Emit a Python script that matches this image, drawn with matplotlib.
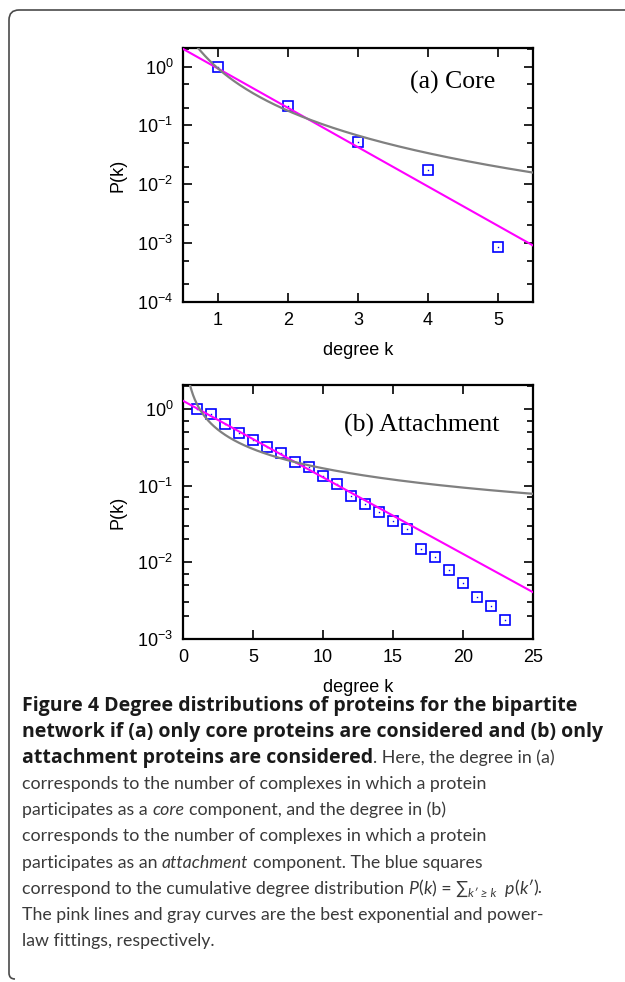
import numpy as np
import matplotlib
matplotlib.use('Agg')
import matplotlib.pyplot as plt
from matplotlib.path import Path
from matplotlib.patches import PathPatch
from matplotlib.ticker import LogLocator, FixedLocator, NullFormatter, FuncFormatter

plt.rcParams['font.family'] = ['Liberation Sans', 'DejaVu Sans']
plt.rcParams['mathtext.fontset'] = 'custom'
plt.rcParams['mathtext.rm'] = 'Liberation Sans'
plt.rcParams['mathtext.it'] = 'Liberation Sans:italic'

# ---------------- data ----------------
core_k = [1, 2, 3, 4, 5]
core_P = [1.0, 0.21, 0.052, 0.0174, 0.00087]

att_k = list(range(1, 24))
att_P = [1.0, 0.85, 0.63, 0.48, 0.39, 0.32, 0.265, 0.205, 0.173, 0.135,
         0.105, 0.0727, 0.0578, 0.045, 0.034, 0.0274, 0.0148, 0.0117,
         0.00787, 0.0054, 0.00355, 0.00268, 0.00177]

# fitted parameters: exponential A*exp(-b k), power law C*k^(-gamma)
core_exp_A, core_exp_b = 4.31, 1.538
core_pow_C, core_pow_gamma = 0.93, 2.39
att_exp_A, att_exp_b = 1.27, 0.2297
att_pow_C, att_pow_gamma = 1.146, 0.835

core_xticks = [1, 2, 3, 4, 5]
att_xticks = [0, 5, 10, 15, 20, 25]
core_yticks = [1e-4, 1e-3, 1e-2, 1e-1, 1e0]
att_yticks = [1e-3, 1e-2, 1e-1, 1e0]

# ---------------- figure ----------------
W, H = 625, 982
fig = plt.figure(figsize=(W / 100, H / 100), dpi=100)


def px_rect(l, t, r, b):
    return [l / W, 1 - b / H, (r - l) / W, (b - t) / H]


def style_axes(ax, xlim, ylim, xticks, yticks, subs):
    ax.set_yscale('log')
    ax.set_xlim(*xlim)
    ax.set_ylim(*ylim)
    ax.xaxis.set_major_locator(FixedLocator(xticks))
    ax.yaxis.set_major_locator(FixedLocator(yticks))
    ax.yaxis.set_minor_locator(LogLocator(base=10, subs=subs))
    ax.yaxis.set_minor_formatter(NullFormatter())
    ax.yaxis.set_major_formatter(FuncFormatter(
        lambda v, p: r'$\mathregular{10^{%d}}$' % int(round(np.log10(v)))))
    ax.tick_params(which='both', direction='in', top=True, right=True,
                   width=1.2, colors='black', labelsize=13)
    ax.tick_params(which='major', length=6.5)
    ax.tick_params(which='minor', length=4)
    ax.tick_params(axis='x', pad=7)
    ax.tick_params(axis='y', pad=7)
    for s in ax.spines.values():
        s.set_linewidth(1.6)
    ax.set_xlabel('degree k', fontsize=13)
    ax.set_ylabel('P(k)', fontsize=13)
    ax.xaxis.label.set_va('center')
    ax.yaxis.label.set_va('center')
    ax.xaxis.set_label_coords(0.5, -0.19)
    ax.yaxis.set_label_coords(-0.186, 0.5)


def draw_points(ax, k, P):
    ax.plot(k, P, ls='none', marker='s', markersize=7.0, markerfacecolor='none',
            markeredgecolor='#0000ff', markeredgewidth=1.2, zorder=2, clip_on=False)
    ax.plot(k, P, ls='none', marker='s', markersize=1.0, markerfacecolor='#0000ff',
            markeredgecolor='none', zorder=2, clip_on=False)


# ---- top: core ----
ax1 = fig.add_axes(px_rect(183, 48, 533, 302))
style_axes(ax1, (0.5, 5.5), (1e-4, 2.07), core_xticks, core_yticks, (2, 5))
draw_points(ax1, core_k, core_P)
kk = np.linspace(0.5, 5.5, 400)
ax1.plot(kk, core_exp_A * np.exp(-core_exp_b * kk), color='#ff00ff', lw=1.5, zorder=3)
ax1.plot(kk, core_pow_C * kk ** (-core_pow_gamma), color='#808080', lw=1.6, zorder=3)
ax1.text(0.891, 0.866, '(a) Core', transform=ax1.transAxes, ha='right', va='center',
         fontsize=18.5, family=['Liberation Serif'])

# ---- bottom: attachment ----
ax2 = fig.add_axes(px_rect(183, 385, 533, 639))
style_axes(ax2, (0, 25), (1e-3, 2.04), att_xticks, att_yticks, (2, 3, 5, 7))
draw_points(ax2, att_k, att_P)
kk = np.linspace(0.01, 25, 600)
ax2.plot(kk, att_exp_A * np.exp(-att_exp_b * kk), color='#ff00ff', lw=1.5, zorder=3)
ax2.plot(kk, att_pow_C * kk ** (-att_pow_gamma), color='#808080', lw=1.6, zorder=3)
ax2.text(0.903, 0.839, '(b) Attachment', transform=ax2.transAxes, ha='right', va='center',
         fontsize=18.5, family=['Liberation Serif'])

# ---------------- frame ----------------
r = 10
verts = [(W + 20, 10), (9 + r, 10), (9, 10), (9, 10 + r), (9, 979 - 6), (9, 979), (15, 979)]
codes = [Path.MOVETO, Path.LINETO, Path.CURVE3, Path.CURVE3, Path.LINETO, Path.CURVE3, Path.CURVE3]
verts_f = [(x / W, 1 - y / H) for x, y in verts]
fig.add_artist(PathPatch(Path(verts_f, codes), transform=fig.transFigure,
                         facecolor='none', edgecolor='#4a4a4a', lw=1.2))

# ---------------- caption ----------------
renderer = fig.canvas.get_renderer()
FAM_NORMAL = ['Lato', 'DejaVu Sans']
FAM_BOLD = ['Open Sans', 'DejaVu Sans']
NORMAL_C = '#3a3a3a'
BOLD_C = '#1a1a1a'


def fam_for(weight):
    return FAM_BOLD if weight == 'bold' else FAM_NORMAL


def measure(text, size, weight='normal', style='normal'):
    t = fig.text(0, 0, text, fontsize=size, family=fam_for(weight),
                 fontweight=weight, fontstyle=style)
    w = t.get_window_extent(renderer).width
    t.remove()
    return w


# fit caption sizes so reference lines span the widths seen in the figure
size_normal = 10 * (465.0 / measure('corresponds to the number of complexes in which a protein', 10))
size_bold = 10 * (583.0 / measure('network if (a) only core proteins are considered and (b) only',
                                  10, 'bold'))

space_cache = {}


def space_w(size, weight, style):
    key = (size, weight, style)
    if key not in space_cache:
        space_cache[key] = measure('x x', size, weight, style) - measure('xx', size, weight, style)
    return space_cache[key]


def draw_segments(segs, x0, y0):
    x = x0
    for seg in segs:
        text = seg[0]
        opts = seg[1] if len(seg) > 1 else {}
        weight = opts.get('weight', 'normal')
        style = opts.get('style', 'normal')
        base = size_bold if weight == 'bold' else size_normal
        size = base * opts.get('scale', 1.0)
        color = BOLD_C if weight == 'bold' else NORMAL_C
        dy = opts.get('dy', 0)
        lead = len(text) - len(text.lstrip(' '))
        trail = len(text) - len(text.rstrip(' '))
        core = text.strip(' ')
        x += lead * space_w(size, weight, style)
        if core:
            t = fig.text(x / W, 1 - (y0 + dy) / H, core, fontsize=size, family=fam_for(weight),
                         fontweight=weight, fontstyle=style, color=color,
                         ha='left', va='baseline')
            x += t.get_window_extent(renderer).width
        x += trail * space_w(size, weight, style)


B = {'weight': 'bold'}
I = {'style': 'italic'}
lines = [
    [('Figure 4 Degree distributions of proteins for the bipartite', B)],
    [('network if (a) only core proteins are considered and (b) only', B)],
    [('attachment proteins are considered', B), ('. Here, the degree in (a)',)],
    [('corresponds to the number of complexes in which a protein',)],
    [('participates as a ',), ('core', I), (' component, and the degree in (b)',)],
    [('corresponds to the number of complexes in which a protein',)],
    [('participates as an ',), ('attachment', I), (' component. The blue squares',)],
    [('correspond to the cumulative degree distribution ',), ('P', I), ('(',), ('k', I),
     (') = \u2211',), ('k\u2032 \u2265 k', {'style': 'italic', 'scale': 0.7, 'dy': 3}),
     (' ',), ('p', I), ('(',), ('k\u2032', I), (').',)],
    [('The pink lines and gray curves are the best exponential and power-',)],
    [('law fittings, respectively.',)],
]

x0 = 22
base0 = 711
step = 26.1
for i, segs in enumerate(lines):
    draw_segments(segs, x0, base0 + i * step)

fig.savefig('out.png', dpi=100)
